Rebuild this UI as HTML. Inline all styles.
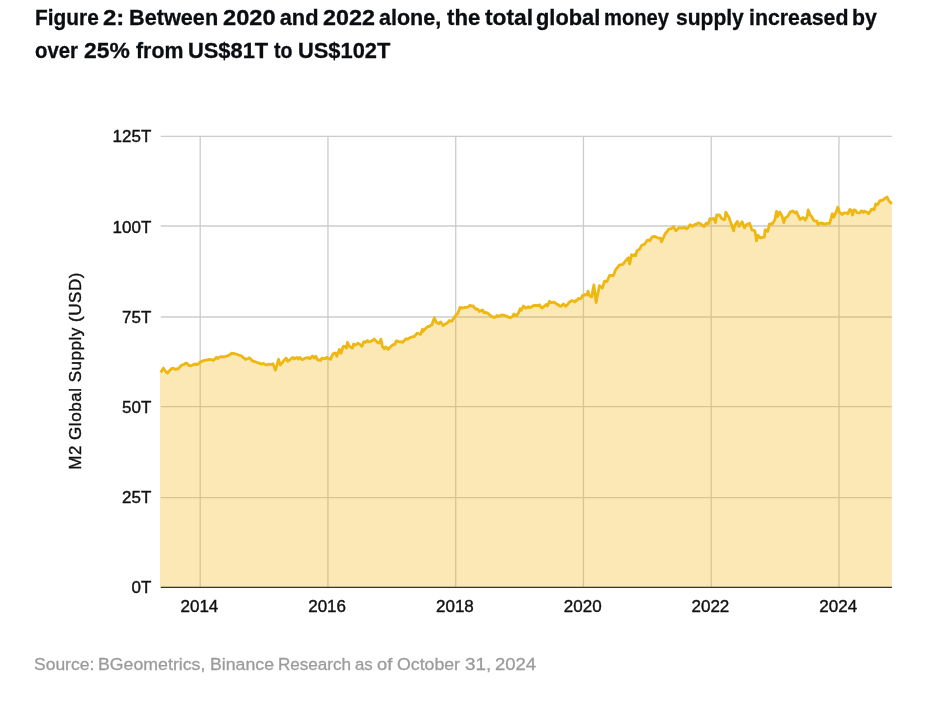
<!DOCTYPE html>
<html><head><meta charset="utf-8">
<style>
html,body{margin:0;padding:0;background:#fff;}
body{width:928px;height:702px;position:relative;overflow:hidden;font-family:"Liberation Sans",sans-serif;}
svg text{font-family:"Liberation Sans",sans-serif;}
svg text.ax{fill:#111;stroke:#111;stroke-width:0.4px;}
.tw,.sw{position:absolute;white-space:nowrap;line-height:normal;transform-origin:0 0;display:block;}
.tw{font-weight:bold;font-size:21.8px;color:#0b0e11;-webkit-text-stroke:0.3px #0b0e11;}
.sw{font-size:17.2px;color:#9b9b9b;-webkit-text-stroke:0.3px #9b9b9b;}
</style></head>
<body>
<div id="layer" style="position:absolute;left:0;top:0;width:928px;height:702px;will-change:transform;">
<span class="tw" style="left:34.56px;top:5.27px;transform:scaleX(0.9572)">Figure</span>
<span class="tw" style="left:103.47px;top:5.27px;transform:scaleX(1.1030)">2:</span>
<span class="tw" style="left:128.51px;top:5.27px;transform:scaleX(0.9948)">Between</span>
<span class="tw" style="left:222.99px;top:5.27px;transform:scaleX(1.0845)">2020</span>
<span class="tw" style="left:279.75px;top:5.27px;transform:scaleX(1.0000)">and</span>
<span class="tw" style="left:323.00px;top:5.27px;transform:scaleX(1.0695)">2022</span>
<span class="tw" style="left:379.26px;top:5.27px;transform:scaleX(0.9877)">alone,</span>
<span class="tw" style="left:446.75px;top:5.27px;transform:scaleX(1.0173)">the</span>
<span class="tw" style="left:484.74px;top:5.27px;transform:scaleX(1.0463)">total</span>
<span class="tw" style="left:536.00px;top:5.27px;transform:scaleX(1.0008)">global</span>
<span class="tw" style="left:604.11px;top:5.27px;transform:scaleX(0.9241)">money</span>
<span class="tw" style="left:676.28px;top:5.27px;transform:scaleX(0.9646)">supply</span>
<span class="tw" style="left:749.03px;top:5.27px;transform:scaleX(0.9772)">increased</span>
<span class="tw" style="left:852.33px;top:5.27px;transform:scaleX(0.9768)">by</span>
<span class="tw" style="left:34.80px;top:38.07px;transform:scaleX(0.9333)">over</span>
<span class="tw" style="left:83.71px;top:38.07px;transform:scaleX(1.0485)">25%</span>
<span class="tw" style="left:136.06px;top:38.07px;transform:scaleX(0.9775)">from</span>
<span class="tw" style="left:188.05px;top:38.07px;transform:scaleX(1.0025)">US$81T</span>
<span class="tw" style="left:273.58px;top:38.07px;transform:scaleX(0.8974)">to</span>
<span class="tw" style="left:297.55px;top:38.07px;transform:scaleX(1.0022)">US$102T</span>
<span class="sw" style="left:34.24px;top:654.43px;transform:scaleX(1.0175)">Source:</span>
<span class="sw" style="left:98.45px;top:654.43px;transform:scaleX(1.0317)">BGeometrics,</span>
<span class="sw" style="left:209.95px;top:654.43px;transform:scaleX(1.0310)">Binance</span>
<span class="sw" style="left:278.01px;top:654.43px;transform:scaleX(0.9930)">Research</span>
<span class="sw" style="left:355.37px;top:654.43px;transform:scaleX(0.9791)">as</span>
<span class="sw" style="left:377.30px;top:654.43px;transform:scaleX(1.0667)">of</span>
<span class="sw" style="left:397.33px;top:654.43px;transform:scaleX(1.0307)">October</span>
<span class="sw" style="left:465.28px;top:654.43px;transform:scaleX(1.0977)">31,</span>
<span class="sw" style="left:495.49px;top:654.43px;transform:scaleX(1.0757)">2024</span>
<svg width="928" height="702" viewBox="0 0 928 702" style="position:absolute;left:0;top:0">
<line x1="160.8" x2="891.9" y1="136.35" y2="136.35" stroke="#cccccc" stroke-width="1.3"/>
<line x1="160.8" x2="891.9" y1="226.0" y2="226.0" stroke="#cccccc" stroke-width="1.3"/>
<line x1="160.8" x2="891.9" y1="317.0" y2="317.0" stroke="#cccccc" stroke-width="1.3"/>
<line x1="160.8" x2="891.9" y1="406.55" y2="406.55" stroke="#cccccc" stroke-width="1.3"/>
<line x1="160.8" x2="891.9" y1="497.7" y2="497.7" stroke="#cccccc" stroke-width="1.3"/>
<line x1="200.20" x2="200.20" y1="136.4" y2="587.4" stroke="#cccccc" stroke-width="1.3"/>
<line x1="327.95" x2="327.95" y1="136.4" y2="587.4" stroke="#cccccc" stroke-width="1.3"/>
<line x1="455.70" x2="455.70" y1="136.4" y2="587.4" stroke="#cccccc" stroke-width="1.3"/>
<line x1="583.45" x2="583.45" y1="136.4" y2="587.4" stroke="#cccccc" stroke-width="1.3"/>
<line x1="711.20" x2="711.20" y1="136.4" y2="587.4" stroke="#cccccc" stroke-width="1.3"/>
<line x1="838.95" x2="838.95" y1="136.4" y2="587.4" stroke="#cccccc" stroke-width="1.3"/>
<path d="M160.0,372.5 L160.8,372.5 L161.7,370.9 L162.6,369.3 L163.5,368.1 L164.4,369.8 L165.4,371.3 L166.4,371.8 L167.3,373.1 L168.6,371.7 L169.8,370.3 L170.9,369.4 L172.0,368.4 L173.1,368.1 L174.2,368.8 L175.4,369.4 L176.7,368.8 L177.9,369.0 L179.0,367.9 L180.1,366.6 L181.2,365.6 L182.3,365.0 L183.4,364.5 L184.4,364.3 L185.5,363.2 L186.6,363.1 L187.7,364.1 L188.8,365.6 L189.7,365.6 L190.7,365.9 L191.6,365.4 L192.7,365.0 L193.7,364.4 L194.8,364.0 L195.8,364.6 L196.9,363.9 L197.9,364.4 L198.9,363.7 L199.8,362.3 L201.0,361.7 L202.3,361.1 L203.5,360.6 L204.8,360.3 L206.0,360.0 L207.2,360.1 L208.5,359.4 L209.8,359.6 L211.0,359.4 L212.2,360.1 L213.3,360.6 L214.3,359.5 L215.3,358.6 L216.3,357.5 L217.1,357.6 L217.9,358.5 L218.9,357.5 L220.0,357.0 L221.0,356.6 L222.0,356.9 L223.1,356.7 L224.1,356.9 L225.2,356.4 L226.3,356.3 L227.4,355.9 L228.5,355.6 L229.5,354.6 L230.6,354.2 L231.6,353.1 L232.7,353.5 L233.9,353.4 L235.0,353.9 L236.2,354.2 L237.3,354.4 L238.5,355.1 L239.8,355.4 L241.0,355.6 L242.1,356.4 L243.2,357.9 L244.3,358.1 L245.4,359.4 L246.6,358.8 L247.9,358.6 L249.1,357.8 L250.4,358.7 L251.6,360.1 L252.9,361.3 L253.9,361.1 L255.0,361.9 L256.0,361.9 L257.2,362.6 L258.5,362.8 L259.5,363.3 L260.6,363.9 L261.6,364.0 L262.6,363.6 L263.5,363.5 L264.5,364.2 L265.6,364.6 L266.6,365.0 L267.3,364.8 L268.0,364.4 L269.2,364.2 L270.5,364.4 L271.8,364.4 L273.0,363.8 L274.2,366.9 L275.5,370.1 L276.5,366.6 L277.6,362.5 L278.6,359.3 L279.5,362.3 L280.3,365.0 L281.4,363.7 L282.5,362.5 L283.6,360.6 L284.9,359.6 L286.1,358.1 L287.0,359.5 L287.8,361.3 L288.9,360.4 L290.0,359.8 L291.1,358.8 L292.1,357.7 L293.0,357.5 L293.8,358.2 L294.5,359.0 L295.6,358.0 L296.8,357.5 L297.6,357.9 L298.3,359.0 L299.1,357.9 L299.9,357.5 L301.1,358.9 L302.4,359.8 L303.4,358.9 L304.5,358.4 L305.5,358.1 L306.4,357.8 L307.4,358.0 L308.3,357.5 L309.1,357.8 L309.9,358.8 L311.1,357.4 L312.4,356.0 L313.4,357.1 L314.3,358.1 L315.1,357.5 L315.8,356.3 L316.6,358.1 L317.4,359.4 L318.4,360.1 L319.5,360.0 L320.5,360.6 L321.2,359.3 L322.0,358.1 L323.1,358.3 L324.3,358.8 L325.6,358.4 L326.8,357.3 L327.6,358.3 L328.3,358.5 L329.4,358.6 L330.5,359.4 L331.8,356.3 L333.0,353.8 L334.2,353.2 L335.5,353.1 L336.1,354.5 L336.8,356.3 L338.1,352.8 L339.3,349.4 L340.2,351.4 L341.1,353.2 L342.1,349.8 L343.0,346.9 L343.9,346.2 L344.9,346.3 L345.7,347.1 L346.5,348.1 L347.4,342.4 L348.6,344.5 L349.9,346.9 L351.1,347.6 L352.4,348.1 L353.6,344.0 L354.6,344.9 L355.5,345.0 L356.8,344.2 L358.0,343.1 L358.9,343.8 L359.9,344.4 L360.9,345.5 L362.0,346.3 L362.8,344.3 L363.6,341.9 L364.6,341.7 L365.5,342.3 L366.4,341.8 L367.4,340.6 L368.6,341.9 L369.7,341.7 L370.7,341.4 L371.8,340.6 L373.1,340.1 L374.3,339.0 L375.3,340.1 L376.4,341.2 L377.4,342.5 L378.4,342.4 L379.3,343.1 L380.1,341.2 L380.9,339.1 L381.7,342.6 L382.5,346.9 L383.4,347.5 L384.4,348.8 L385.6,346.9 L386.9,347.9 L388.1,349.4 L389.4,347.8 L390.6,346.7 L391.9,345.6 L392.9,344.8 L394.0,344.4 L395.0,344.4 L395.6,342.4 L396.3,341.0 L397.6,341.1 L398.8,341.9 L400.0,341.9 L401.3,341.7 L402.5,342.3 L403.5,341.5 L404.6,340.2 L405.6,339.0 L406.6,338.9 L407.5,339.4 L408.5,338.5 L409.6,337.9 L410.6,337.3 L411.7,337.0 L412.7,336.7 L413.8,336.9 L414.8,335.9 L415.9,334.8 L416.9,333.1 L418.1,333.5 L419.4,334.0 L420.6,334.4 L421.6,331.5 L422.5,329.3 L423.1,331.3 L424.4,329.6 L425.6,328.5 L426.9,327.3 L428.1,326.5 L429.4,326.4 L430.6,325.3 L431.9,325.0 L433.1,321.0 L434.4,317.8 L435.4,320.5 L436.3,322.3 L437.6,323.1 L438.8,323.8 L439.7,322.5 L440.6,321.9 L441.9,323.8 L443.1,325.6 L444.2,324.5 L445.2,324.2 L446.3,323.5 L447.3,322.9 L448.4,321.8 L449.4,320.4 L450.6,321.0 L451.9,321.3 L452.9,319.4 L454.0,317.8 L455.0,316.3 L456.2,314.8 L457.5,313.8 L458.8,310.9 L460.0,307.5 L461.0,307.7 L462.1,308.0 L463.1,307.9 L464.4,307.5 L465.6,307.3 L466.9,307.3 L467.9,306.9 L469.0,306.4 L470.0,305.3 L471.0,305.8 L472.1,306.0 L473.1,305.9 L474.2,307.4 L475.2,308.4 L476.3,309.4 L477.5,309.0 L478.4,310.0 L479.4,311.5 L480.4,311.0 L481.5,310.4 L482.5,310.0 L483.1,310.8 L483.8,312.5 L485.0,312.3 L486.3,312.7 L487.5,313.1 L488.5,313.7 L489.6,314.9 L490.6,315.6 L491.7,316.6 L492.8,316.8 L493.9,317.5 L494.9,317.2 L496.0,316.5 L497.0,315.4 L497.9,316.3 L498.9,316.3 L499.9,315.7 L501.0,315.2 L502.0,315.0 L503.3,315.1 L504.5,315.4 L505.8,316.0 L507.0,316.2 L508.3,317.1 L509.5,317.5 L510.8,317.6 L512.0,316.9 L513.0,315.8 L513.9,314.0 L515.1,314.8 L516.4,315.6 L517.3,314.5 L518.3,313.1 L519.2,311.2 L520.1,308.8 L521.4,310.3 L522.5,307.8 L523.5,306.0 L524.6,307.2 L525.8,308.1 L527.0,307.7 L528.3,306.6 L529.2,307.3 L530.1,307.5 L531.2,307.2 L532.3,306.4 L533.4,305.6 L534.5,305.3 L535.5,305.7 L536.6,305.3 L537.6,305.6 L538.5,305.5 L539.5,304.8 L540.8,306.9 L542.0,308.1 L543.0,307.2 L544.1,306.3 L545.1,305.6 L546.4,304.4 L547.3,306.0 L548.4,304.1 L549.5,301.3 L550.8,302.5 L552.0,302.5 L553.3,302.1 L554.5,302.6 L555.8,303.3 L557.0,304.4 L558.3,304.7 L559.5,306.0 L560.8,306.3 L562.0,305.4 L563.3,304.0 L564.5,304.8 L565.8,306.3 L566.8,305.3 L567.9,304.1 L568.9,302.3 L569.9,301.9 L571.0,301.0 L572.0,300.6 L573.0,301.1 L574.1,301.1 L575.1,301.9 L576.2,300.3 L577.2,300.1 L578.3,298.5 L579.5,298.6 L580.8,298.5 L581.7,297.0 L582.6,295.4 L583.9,295.3 L585.1,294.4 L586.0,294.6 L587.0,295.0 L588.0,291.2 L588.8,293.7 L589.5,295.6 L590.6,296.5 L591.8,296.9 L592.8,290.6 L593.9,284.9 L595.0,293.5 L596.1,302.6 L597.2,296.7 L598.4,291.0 L599.5,285.6 L600.4,286.5 L601.4,287.1 L602.3,288.1 L603.4,284.6 L604.5,281.3 L605.4,281.0 L606.2,281.7 L607.1,281.3 L608.4,278.2 L609.6,275.3 L610.9,275.3 L612.1,275.5 L613.4,275.5 L614.3,273.2 L615.3,270.2 L616.6,268.5 L617.8,267.2 L619.1,265.2 L620.3,264.9 L621.6,264.6 L622.8,264.3 L623.9,263.0 L625.1,261.2 L626.2,260.3 L627.4,258.7 L628.5,257.7 L629.7,264.0 L630.7,258.9 L631.6,254.6 L632.4,255.5 L633.1,255.8 L633.9,254.9 L634.7,254.6 L635.6,255.8 L636.9,250.8 L637.9,250.1 L638.8,249.7 L639.8,248.9 L640.7,247.2 L641.6,245.4 L642.5,244.9 L643.3,244.8 L644.2,244.5 L645.2,243.1 L646.3,241.8 L647.3,240.1 L648.5,240.1 L649.8,240.8 L650.8,239.2 L651.7,237.4 L652.7,236.8 L653.8,236.5 L654.8,236.4 L655.9,237.1 L656.9,237.4 L658.0,237.9 L659.2,238.1 L660.5,238.2 L661.5,241.8 L662.6,239.5 L663.8,237.0 L664.9,234.1 L665.8,233.0 L666.7,232.0 L667.7,230.7 L668.6,229.1 L669.9,228.9 L671.1,228.6 L672.4,227.6 L673.6,226.6 L674.7,228.8 L675.8,230.7 L677.0,229.6 L678.1,228.7 L679.3,227.6 L680.5,227.9 L681.8,228.2 L683.0,228.1 L684.3,227.3 L685.5,228.2 L686.8,228.8 L687.9,227.8 L688.9,226.5 L690.0,224.8 L691.2,225.3 L692.5,226.3 L693.8,225.4 L695.0,224.4 L696.0,224.3 L697.1,223.6 L698.1,222.8 L699.1,223.0 L700.2,223.5 L701.2,224.4 L702.2,225.1 L703.1,225.5 L704.1,226.6 L705.2,224.7 L706.3,223.2 L707.2,223.1 L708.2,223.8 L709.1,221.4 L710.0,218.6 L711.1,218.9 L712.2,219.1 L713.3,218.4 L714.4,218.8 L715.4,222.6 L716.0,219.0 L716.7,215.0 L717.9,215.1 L719.1,214.9 L720.2,215.9 L721.2,217.9 L722.3,218.9 L723.5,219.6 L724.8,219.5 L725.8,212.2 L726.7,213.3 L727.6,215.4 L728.5,216.4 L729.4,218.6 L730.2,221.0 L731.1,223.3 L732.4,227.5 L733.6,230.9 L734.8,225.2 L736.0,223.6 L737.3,221.4 L738.2,223.5 L739.2,226.2 L740.2,224.6 L741.1,223.2 L742.1,221.7 L743.4,224.7 L744.6,227.9 L745.7,225.9 L746.7,224.5 L747.7,223.9 L748.6,223.9 L749.6,223.3 L750.7,226.2 L751.8,229.9 L752.8,230.2 L753.9,230.4 L754.9,230.8 L755.7,235.4 L756.5,240.9 L757.2,237.9 L758.0,235.2 L759.2,236.7 L760.5,238.0 L761.8,237.7 L763.0,237.0 L764.3,237.1 L765.2,229.6 L766.5,230.9 L767.7,231.4 L768.5,228.1 L769.3,224.2 L770.4,224.5 L771.4,223.5 L772.5,223.7 L773.8,221.4 L775.0,219.5 L775.8,215.0 L776.5,211.3 L777.5,216.5 L778.6,214.5 L779.7,212.0 L780.8,213.7 L781.9,215.8 L782.8,218.9 L783.8,222.7 L785.0,218.3 L786.2,217.3 L787.5,216.4 L788.8,214.6 L790.0,212.0 L791.2,211.8 L792.5,211.0 L793.8,211.7 L795.0,212.9 L795.8,212.0 L796.5,211.7 L797.7,214.7 L798.9,217.0 L800.1,219.5 L801.1,219.0 L802.2,217.9 L803.2,217.6 L804.2,218.5 L805.1,220.2 L806.0,218.8 L807.0,217.0 L808.2,210.0 L809.2,212.5 L810.1,215.1 L811.0,215.7 L812.0,217.0 L813.2,219.3 L814.5,220.8 L815.8,221.1 L817.0,221.2 L818.0,224.6 L819.1,224.1 L820.2,223.0 L821.3,222.9 L822.4,223.8 L823.4,223.4 L824.5,224.0 L825.6,224.1 L826.6,223.5 L827.7,223.3 L828.7,223.3 L829.6,223.5 L830.5,220.3 L831.4,217.4 L832.3,213.8 L833.1,215.2 L834.0,217.1 L834.9,214.6 L835.8,212.7 L836.8,210.0 L837.7,207.2 L838.7,209.7 L839.6,212.7 L840.9,213.2 L842.1,214.5 L843.4,213.4 L844.6,212.9 L845.7,212.8 L846.7,213.2 L847.8,213.7 L848.8,211.4 L849.9,209.5 L850.7,210.0 L851.5,210.8 L852.4,215.2 L853.2,212.8 L854.0,209.9 L855.3,210.2 L856.2,211.3 L857.2,212.7 L858.5,212.8 L859.7,212.9 L860.7,211.6 L861.6,210.8 L862.5,211.5 L863.4,212.4 L864.0,211.4 L864.7,211.2 L866.0,211.8 L867.2,212.4 L868.5,213.7 L869.5,212.4 L870.6,210.7 L871.6,209.1 L872.9,209.2 L874.1,209.9 L874.9,206.9 L875.7,203.9 L876.8,204.6 L877.9,204.5 L878.8,202.2 L879.8,200.7 L880.8,200.8 L881.9,200.2 L882.9,200.1 L884.1,199.0 L885.4,197.9 L886.2,197.8 L887.0,197.0 L887.9,198.8 L888.8,200.7 L889.8,201.7 L890.9,202.9 L891.9,203.8 L891.9,587.4 L160.0,587.4 Z" fill="#f2b205" fill-opacity="0.30" stroke="none"/>
<path d="M160.8,372.5 L161.7,370.9 L162.6,369.3 L163.5,368.1 L164.4,369.8 L165.4,371.3 L166.4,371.8 L167.3,373.1 L168.6,371.7 L169.8,370.3 L170.9,369.4 L172.0,368.4 L173.1,368.1 L174.2,368.8 L175.4,369.4 L176.7,368.8 L177.9,369.0 L179.0,367.9 L180.1,366.6 L181.2,365.6 L182.3,365.0 L183.4,364.5 L184.4,364.3 L185.5,363.2 L186.6,363.1 L187.7,364.1 L188.8,365.6 L189.7,365.6 L190.7,365.9 L191.6,365.4 L192.7,365.0 L193.7,364.4 L194.8,364.0 L195.8,364.6 L196.9,363.9 L197.9,364.4 L198.9,363.7 L199.8,362.3 L201.0,361.7 L202.3,361.1 L203.5,360.6 L204.8,360.3 L206.0,360.0 L207.2,360.1 L208.5,359.4 L209.8,359.6 L211.0,359.4 L212.2,360.1 L213.3,360.6 L214.3,359.5 L215.3,358.6 L216.3,357.5 L217.1,357.6 L217.9,358.5 L218.9,357.5 L220.0,357.0 L221.0,356.6 L222.0,356.9 L223.1,356.7 L224.1,356.9 L225.2,356.4 L226.3,356.3 L227.4,355.9 L228.5,355.6 L229.5,354.6 L230.6,354.2 L231.6,353.1 L232.7,353.5 L233.9,353.4 L235.0,353.9 L236.2,354.2 L237.3,354.4 L238.5,355.1 L239.8,355.4 L241.0,355.6 L242.1,356.4 L243.2,357.9 L244.3,358.1 L245.4,359.4 L246.6,358.8 L247.9,358.6 L249.1,357.8 L250.4,358.7 L251.6,360.1 L252.9,361.3 L253.9,361.1 L255.0,361.9 L256.0,361.9 L257.2,362.6 L258.5,362.8 L259.5,363.3 L260.6,363.9 L261.6,364.0 L262.6,363.6 L263.5,363.5 L264.5,364.2 L265.6,364.6 L266.6,365.0 L267.3,364.8 L268.0,364.4 L269.2,364.2 L270.5,364.4 L271.8,364.4 L273.0,363.8 L274.2,366.9 L275.5,370.1 L276.5,366.6 L277.6,362.5 L278.6,359.3 L279.5,362.3 L280.3,365.0 L281.4,363.7 L282.5,362.5 L283.6,360.6 L284.9,359.6 L286.1,358.1 L287.0,359.5 L287.8,361.3 L288.9,360.4 L290.0,359.8 L291.1,358.8 L292.1,357.7 L293.0,357.5 L293.8,358.2 L294.5,359.0 L295.6,358.0 L296.8,357.5 L297.6,357.9 L298.3,359.0 L299.1,357.9 L299.9,357.5 L301.1,358.9 L302.4,359.8 L303.4,358.9 L304.5,358.4 L305.5,358.1 L306.4,357.8 L307.4,358.0 L308.3,357.5 L309.1,357.8 L309.9,358.8 L311.1,357.4 L312.4,356.0 L313.4,357.1 L314.3,358.1 L315.1,357.5 L315.8,356.3 L316.6,358.1 L317.4,359.4 L318.4,360.1 L319.5,360.0 L320.5,360.6 L321.2,359.3 L322.0,358.1 L323.1,358.3 L324.3,358.8 L325.6,358.4 L326.8,357.3 L327.6,358.3 L328.3,358.5 L329.4,358.6 L330.5,359.4 L331.8,356.3 L333.0,353.8 L334.2,353.2 L335.5,353.1 L336.1,354.5 L336.8,356.3 L338.1,352.8 L339.3,349.4 L340.2,351.4 L341.1,353.2 L342.1,349.8 L343.0,346.9 L343.9,346.2 L344.9,346.3 L345.7,347.1 L346.5,348.1 L347.4,342.4 L348.6,344.5 L349.9,346.9 L351.1,347.6 L352.4,348.1 L353.6,344.0 L354.6,344.9 L355.5,345.0 L356.8,344.2 L358.0,343.1 L358.9,343.8 L359.9,344.4 L360.9,345.5 L362.0,346.3 L362.8,344.3 L363.6,341.9 L364.6,341.7 L365.5,342.3 L366.4,341.8 L367.4,340.6 L368.6,341.9 L369.7,341.7 L370.7,341.4 L371.8,340.6 L373.1,340.1 L374.3,339.0 L375.3,340.1 L376.4,341.2 L377.4,342.5 L378.4,342.4 L379.3,343.1 L380.1,341.2 L380.9,339.1 L381.7,342.6 L382.5,346.9 L383.4,347.5 L384.4,348.8 L385.6,346.9 L386.9,347.9 L388.1,349.4 L389.4,347.8 L390.6,346.7 L391.9,345.6 L392.9,344.8 L394.0,344.4 L395.0,344.4 L395.6,342.4 L396.3,341.0 L397.6,341.1 L398.8,341.9 L400.0,341.9 L401.3,341.7 L402.5,342.3 L403.5,341.5 L404.6,340.2 L405.6,339.0 L406.6,338.9 L407.5,339.4 L408.5,338.5 L409.6,337.9 L410.6,337.3 L411.7,337.0 L412.7,336.7 L413.8,336.9 L414.8,335.9 L415.9,334.8 L416.9,333.1 L418.1,333.5 L419.4,334.0 L420.6,334.4 L421.6,331.5 L422.5,329.3 L423.1,331.3 L424.4,329.6 L425.6,328.5 L426.9,327.3 L428.1,326.5 L429.4,326.4 L430.6,325.3 L431.9,325.0 L433.1,321.0 L434.4,317.8 L435.4,320.5 L436.3,322.3 L437.6,323.1 L438.8,323.8 L439.7,322.5 L440.6,321.9 L441.9,323.8 L443.1,325.6 L444.2,324.5 L445.2,324.2 L446.3,323.5 L447.3,322.9 L448.4,321.8 L449.4,320.4 L450.6,321.0 L451.9,321.3 L452.9,319.4 L454.0,317.8 L455.0,316.3 L456.2,314.8 L457.5,313.8 L458.8,310.9 L460.0,307.5 L461.0,307.7 L462.1,308.0 L463.1,307.9 L464.4,307.5 L465.6,307.3 L466.9,307.3 L467.9,306.9 L469.0,306.4 L470.0,305.3 L471.0,305.8 L472.1,306.0 L473.1,305.9 L474.2,307.4 L475.2,308.4 L476.3,309.4 L477.5,309.0 L478.4,310.0 L479.4,311.5 L480.4,311.0 L481.5,310.4 L482.5,310.0 L483.1,310.8 L483.8,312.5 L485.0,312.3 L486.3,312.7 L487.5,313.1 L488.5,313.7 L489.6,314.9 L490.6,315.6 L491.7,316.6 L492.8,316.8 L493.9,317.5 L494.9,317.2 L496.0,316.5 L497.0,315.4 L497.9,316.3 L498.9,316.3 L499.9,315.7 L501.0,315.2 L502.0,315.0 L503.3,315.1 L504.5,315.4 L505.8,316.0 L507.0,316.2 L508.3,317.1 L509.5,317.5 L510.8,317.6 L512.0,316.9 L513.0,315.8 L513.9,314.0 L515.1,314.8 L516.4,315.6 L517.3,314.5 L518.3,313.1 L519.2,311.2 L520.1,308.8 L521.4,310.3 L522.5,307.8 L523.5,306.0 L524.6,307.2 L525.8,308.1 L527.0,307.7 L528.3,306.6 L529.2,307.3 L530.1,307.5 L531.2,307.2 L532.3,306.4 L533.4,305.6 L534.5,305.3 L535.5,305.7 L536.6,305.3 L537.6,305.6 L538.5,305.5 L539.5,304.8 L540.8,306.9 L542.0,308.1 L543.0,307.2 L544.1,306.3 L545.1,305.6 L546.4,304.4 L547.3,306.0 L548.4,304.1 L549.5,301.3 L550.8,302.5 L552.0,302.5 L553.3,302.1 L554.5,302.6 L555.8,303.3 L557.0,304.4 L558.3,304.7 L559.5,306.0 L560.8,306.3 L562.0,305.4 L563.3,304.0 L564.5,304.8 L565.8,306.3 L566.8,305.3 L567.9,304.1 L568.9,302.3 L569.9,301.9 L571.0,301.0 L572.0,300.6 L573.0,301.1 L574.1,301.1 L575.1,301.9 L576.2,300.3 L577.2,300.1 L578.3,298.5 L579.5,298.6 L580.8,298.5 L581.7,297.0 L582.6,295.4 L583.9,295.3 L585.1,294.4 L586.0,294.6 L587.0,295.0 L588.0,291.2 L588.8,293.7 L589.5,295.6 L590.6,296.5 L591.8,296.9 L592.8,290.6 L593.9,284.9 L595.0,293.5 L596.1,302.6 L597.2,296.7 L598.4,291.0 L599.5,285.6 L600.4,286.5 L601.4,287.1 L602.3,288.1 L603.4,284.6 L604.5,281.3 L605.4,281.0 L606.2,281.7 L607.1,281.3 L608.4,278.2 L609.6,275.3 L610.9,275.3 L612.1,275.5 L613.4,275.5 L614.3,273.2 L615.3,270.2 L616.6,268.5 L617.8,267.2 L619.1,265.2 L620.3,264.9 L621.6,264.6 L622.8,264.3 L623.9,263.0 L625.1,261.2 L626.2,260.3 L627.4,258.7 L628.5,257.7 L629.7,264.0 L630.7,258.9 L631.6,254.6 L632.4,255.5 L633.1,255.8 L633.9,254.9 L634.7,254.6 L635.6,255.8 L636.9,250.8 L637.9,250.1 L638.8,249.7 L639.8,248.9 L640.7,247.2 L641.6,245.4 L642.5,244.9 L643.3,244.8 L644.2,244.5 L645.2,243.1 L646.3,241.8 L647.3,240.1 L648.5,240.1 L649.8,240.8 L650.8,239.2 L651.7,237.4 L652.7,236.8 L653.8,236.5 L654.8,236.4 L655.9,237.1 L656.9,237.4 L658.0,237.9 L659.2,238.1 L660.5,238.2 L661.5,241.8 L662.6,239.5 L663.8,237.0 L664.9,234.1 L665.8,233.0 L666.7,232.0 L667.7,230.7 L668.6,229.1 L669.9,228.9 L671.1,228.6 L672.4,227.6 L673.6,226.6 L674.7,228.8 L675.8,230.7 L677.0,229.6 L678.1,228.7 L679.3,227.6 L680.5,227.9 L681.8,228.2 L683.0,228.1 L684.3,227.3 L685.5,228.2 L686.8,228.8 L687.9,227.8 L688.9,226.5 L690.0,224.8 L691.2,225.3 L692.5,226.3 L693.8,225.4 L695.0,224.4 L696.0,224.3 L697.1,223.6 L698.1,222.8 L699.1,223.0 L700.2,223.5 L701.2,224.4 L702.2,225.1 L703.1,225.5 L704.1,226.6 L705.2,224.7 L706.3,223.2 L707.2,223.1 L708.2,223.8 L709.1,221.4 L710.0,218.6 L711.1,218.9 L712.2,219.1 L713.3,218.4 L714.4,218.8 L715.4,222.6 L716.0,219.0 L716.7,215.0 L717.9,215.1 L719.1,214.9 L720.2,215.9 L721.2,217.9 L722.3,218.9 L723.5,219.6 L724.8,219.5 L725.8,212.2 L726.7,213.3 L727.6,215.4 L728.5,216.4 L729.4,218.6 L730.2,221.0 L731.1,223.3 L732.4,227.5 L733.6,230.9 L734.8,225.2 L736.0,223.6 L737.3,221.4 L738.2,223.5 L739.2,226.2 L740.2,224.6 L741.1,223.2 L742.1,221.7 L743.4,224.7 L744.6,227.9 L745.7,225.9 L746.7,224.5 L747.7,223.9 L748.6,223.9 L749.6,223.3 L750.7,226.2 L751.8,229.9 L752.8,230.2 L753.9,230.4 L754.9,230.8 L755.7,235.4 L756.5,240.9 L757.2,237.9 L758.0,235.2 L759.2,236.7 L760.5,238.0 L761.8,237.7 L763.0,237.0 L764.3,237.1 L765.2,229.6 L766.5,230.9 L767.7,231.4 L768.5,228.1 L769.3,224.2 L770.4,224.5 L771.4,223.5 L772.5,223.7 L773.8,221.4 L775.0,219.5 L775.8,215.0 L776.5,211.3 L777.5,216.5 L778.6,214.5 L779.7,212.0 L780.8,213.7 L781.9,215.8 L782.8,218.9 L783.8,222.7 L785.0,218.3 L786.2,217.3 L787.5,216.4 L788.8,214.6 L790.0,212.0 L791.2,211.8 L792.5,211.0 L793.8,211.7 L795.0,212.9 L795.8,212.0 L796.5,211.7 L797.7,214.7 L798.9,217.0 L800.1,219.5 L801.1,219.0 L802.2,217.9 L803.2,217.6 L804.2,218.5 L805.1,220.2 L806.0,218.8 L807.0,217.0 L808.2,210.0 L809.2,212.5 L810.1,215.1 L811.0,215.7 L812.0,217.0 L813.2,219.3 L814.5,220.8 L815.8,221.1 L817.0,221.2 L818.0,224.6 L819.1,224.1 L820.2,223.0 L821.3,222.9 L822.4,223.8 L823.4,223.4 L824.5,224.0 L825.6,224.1 L826.6,223.5 L827.7,223.3 L828.7,223.3 L829.6,223.5 L830.5,220.3 L831.4,217.4 L832.3,213.8 L833.1,215.2 L834.0,217.1 L834.9,214.6 L835.8,212.7 L836.8,210.0 L837.7,207.2 L838.7,209.7 L839.6,212.7 L840.9,213.2 L842.1,214.5 L843.4,213.4 L844.6,212.9 L845.7,212.8 L846.7,213.2 L847.8,213.7 L848.8,211.4 L849.9,209.5 L850.7,210.0 L851.5,210.8 L852.4,215.2 L853.2,212.8 L854.0,209.9 L855.3,210.2 L856.2,211.3 L857.2,212.7 L858.5,212.8 L859.7,212.9 L860.7,211.6 L861.6,210.8 L862.5,211.5 L863.4,212.4 L864.0,211.4 L864.7,211.2 L866.0,211.8 L867.2,212.4 L868.5,213.7 L869.5,212.4 L870.6,210.7 L871.6,209.1 L872.9,209.2 L874.1,209.9 L874.9,206.9 L875.7,203.9 L876.8,204.6 L877.9,204.5 L878.8,202.2 L879.8,200.7 L880.8,200.8 L881.9,200.2 L882.9,200.1 L884.1,199.0 L885.4,197.9 L886.2,197.8 L887.0,197.0 L887.9,198.8 L888.8,200.7 L889.8,201.7 L890.9,202.9 L891.9,203.8" fill="none" stroke="#eeb711" stroke-width="2.8" stroke-linejoin="round" stroke-linecap="butt"/>
<line x1="160.8" x2="891.9" y1="587.4" y2="587.4" stroke="#333333" stroke-width="1.3"/>
<text transform="translate(151.3,142.40) scale(0.977,1)" text-anchor="end" font-size="17.4" class="ax">125T</text>
<text transform="translate(151.3,232.55) scale(0.977,1)" text-anchor="end" font-size="17.4" class="ax">100T</text>
<text transform="translate(151.3,322.70) scale(0.977,1)" text-anchor="end" font-size="17.4" class="ax">75T</text>
<text transform="translate(151.3,412.85) scale(0.977,1)" text-anchor="end" font-size="17.4" class="ax">50T</text>
<text transform="translate(151.3,503.00) scale(0.977,1)" text-anchor="end" font-size="17.4" class="ax">25T</text>
<text transform="translate(151.3,593.15) scale(0.977,1)" text-anchor="end" font-size="17.4" class="ax">0T</text>
<text x="199.4" y="612.4" text-anchor="middle" font-size="17" class="ax">2014</text>
<text x="327.1" y="612.4" text-anchor="middle" font-size="17" class="ax">2016</text>
<text x="454.9" y="612.4" text-anchor="middle" font-size="17" class="ax">2018</text>
<text x="582.7" y="612.4" text-anchor="middle" font-size="17" class="ax">2020</text>
<text x="710.4" y="612.4" text-anchor="middle" font-size="17" class="ax">2022</text>
<text x="838.2" y="612.4" text-anchor="middle" font-size="17" class="ax">2024</text>
<text transform="translate(81.3,469.8) rotate(-90)" text-anchor="start" textLength="197.2" lengthAdjust="spacing" font-size="17" class="ax">M2 Global Supply (USD)</text>
</svg>
</div>
</body></html>
